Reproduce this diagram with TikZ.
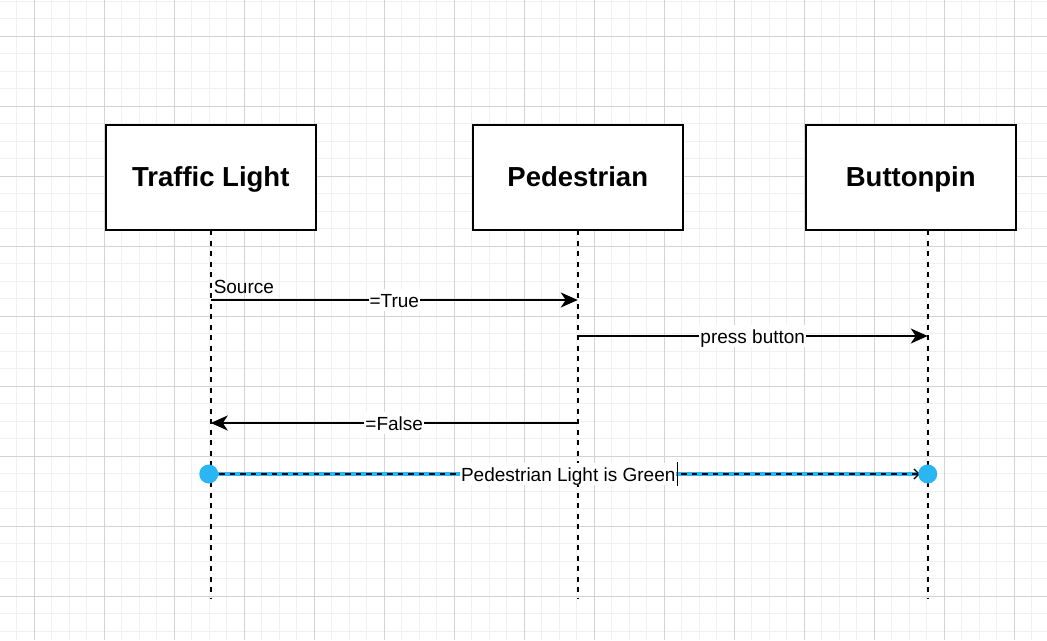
\documentclass[tikz,border=0pt]{standalone}
\usepackage{fontspec}
\setmainfont{Liberation Sans}
\usepackage{xcolor}
\usepackage{tikz}
\usetikzlibrary{arrows.meta}
\usetikzlibrary{calc}
\usetikzlibrary{positioning}
\definecolor{gridminor}{HTML}{F0F0F0}
\definecolor{gridmajor}{HTML}{D3D3D3}
\definecolor{selblue}{HTML}{29B6F2}

\begin{document}
\begin{tikzpicture}[x=1pt,y=-1pt,>={Stealth[length=17pt,width=15pt,inset=5pt]},line width=2pt]
 				 \tikzstyle{every node}=[font=\fontsize{19}{22}\selectfont]
 				 \tikzstyle{actor}=[draw=black, fill=white, minimum width=210pt, minimum height=105pt, inner sep=0pt, outer sep=0pt, text height=17pt, text depth=0pt, font=\fontsize{27.5}{33}\selectfont\bfseries]
 				 \tikzstyle{life}=[dash pattern=on 5.25pt off 5.25pt]
 				 \tikzstyle{msg}=[->]
 				 \tikzstyle{lbl}=[fill=white, inner sep=1pt, text height=17pt, text depth=3pt]
 				 \tikzstyle{dot}=[circle, fill=selblue, minimum size=19pt, inner sep=0pt]
 				 \useasboundingbox (0,0) rectangle (1047,640);
 				 % grid
 				 \foreach \i in {0,...,58} \draw[gridminor, line width=1pt] ({16.8+17.5*\i},0) -- ++(0,640);
 				 \foreach \i in {0,...,36} \draw[gridminor, line width=1pt] (0,{1+17.5*\i}) -- ++(1047,0);
 				 \foreach \i in {0,...,14} \draw[gridmajor, line width=1pt] ({34.3+70*\i},0) -- ++(0,640);
 				 \foreach \i in {0,...,8} \draw[gridmajor, line width=1pt] (0,{36+70*\i}) -- ++(1047,0);
 					 \node[actor] 			(T) at (210.75,177.5)  		{Traffic Light};
 					 \node[actor] 			(P) [right=157pt of T]     		{Pedestrian};
 					 \node[actor] 			(B) [right=123pt of P]     		{Buttonpin};
 					 % lifelines
 					 \coordinate (Bs) at ($(B.south)+(17,0)$);
 					 \coordinate (Te) at ($(T.south)+(0,368)$);
 					 \coordinate (Pe) at ($(P.south)+(0,368)$);
 					 \coordinate (Be) at ($(Bs)+(0,368)$);
 					 % message points
 					 \coordinate (T1) at ($(T.south)+(0,70)$);
 					 \coordinate (P1) at ($(P.south)+(0,70)$);
 					 \coordinate (P2) at ($(P.south)+(0,106)$);
 					 \coordinate (B2) at ($(Bs)+(0,106)$);
 					 \coordinate (P3) at ($(P.south)+(0,193)$);
 					 \coordinate (T3) at ($(T.south)+(0,193)$);
 					 \coordinate (T4) at ($(T.south)+(-2,244)$);
 					 \coordinate (B4) at ($(Bs)+(0,244)$);
				\path[life]
				(T.south) edge (Te)
				(P.south) edge (Pe)
				(Bs) edge (Be);
				\path
				(T1) edge [msg] node[lbl] {=True} (P1)
				(P2) edge [msg] node[lbl] {press button} (B2)
				(P3) edge [msg] node[lbl] {=False} (T3);
					 \node[anchor=base west, inner sep=0pt] (S) at ($(T1)+(2,-7)$) {Source};
				% selected message
				\draw[selblue, line width=3.5pt] (T4) -- (B4);
				\draw[life, line width=1.2pt, -{Straight Barb[length=5pt,width=10pt]}] (T4) -- ($(B4)+(-8,0)$);
					 \node[dot] (D1) at (T4) {};
					 \node[dot] (D2) at (B4) {};
					 \node[lbl] (G) at ($(D1)!0.5!(D2)$) {Pedestrian Light is Green};
				\draw[line width=1.2pt] (G.north east) -- (G.south east);
\end{tikzpicture}
\end{document}
